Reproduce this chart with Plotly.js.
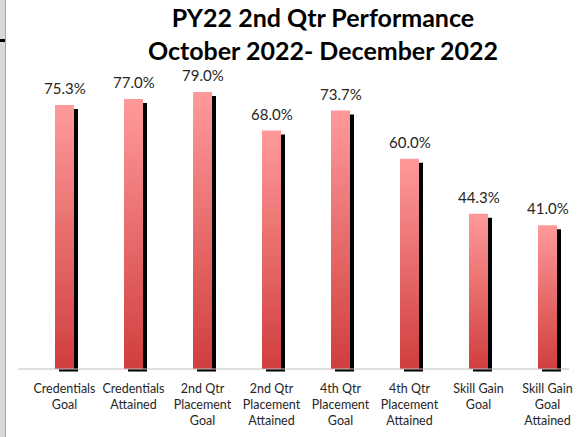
<!DOCTYPE html>
<html><head><meta charset="utf-8">
<script src="https://cdn.plot.ly/plotly-3.0.1.min.js"></script>
<style>html,body{margin:0;padding:0;background:#fff;} #chart{width:582px;height:437px;}</style>
</head><body><div id="chart"></div>
<script>
// ---- data ----
const categories = ["Credentials<br>Goal","Credentials<br>Attained","2nd Qtr<br>Placement<br>Goal","2nd Qtr<br>Placement<br>Attained","4th Qtr<br>Placement<br>Goal","4th Qtr<br>Placement<br>Attained","Skill Gain<br>Goal","Skill Gain<br>Goal<br>Attained"];
const values = [75.3, 77.0, 79.0, 68.0, 73.7, 60.0, 44.3, 41.0];
const valueLabels = values.map(v => v.toFixed(1) + '%');
const titleLines = ["PY22 2nd Qtr Performance", "October 2022- December 2022"];

// ---- geometry helpers ----
const W = 582, H = 437;
const mL = 30, mR = 0, mT = 69, mB = 65;
const plotW = W - mL - mR, plotH = H - mT - mB;
const pxPerCat = plotW / categories.length;
const yMax = 85.57;
const yMin = -0.856;
const pxPerUnit = plotH / (yMax - yMin);
const idx = categories.map((c, i) => i);
const barW = 19 / pxPerCat;
const shX = 4 / pxPerCat;
const shTop = 4 / pxPerUnit, shBot = 2.5 / pxPerUnit;

const shadow = {
  type: 'bar', x: idx, y: values.map(v => v - shTop + shBot), base: values.map(() => -shBot),
  width: barW, offset: -barW / 2 + shX, marker: {color: '#000000', line: {width: 0}},
  hoverinfo: 'skip', showlegend: false
};
const bars = {
  type: 'bar', x: idx, y: values, width: barW, offset: -barW / 2,
  marker: {color: '#e87070', line: {width: 0}}, hoverinfo: 'skip', showlegend: false
};

const annotations = values.map((v, i) => ({
  x: i, y: v, xref: 'x', yref: 'y', text: valueLabels[i], showarrow: false,
  yanchor: 'middle', yshift: 17, font: {family: 'Lato, sans-serif', size: 15, color: '#262626'}
}));

const layout = {
  width: W, height: H, margin: {l: mL, r: mR, t: mT, b: mB},
  paper_bgcolor: '#ffffff', plot_bgcolor: '#ffffff', barmode: 'overlay',
  title: {text: titleLines.join('<br>'), x: 323 / W, xanchor: 'center', xref: 'container',
          y: 0.938, yanchor: 'top', yref: 'container',
          font: {family: 'Lato, sans-serif', size: 25, color: '#000000', weight: 'bold'}},
  xaxis: {range: [-0.5, categories.length - 0.5], tickvals: idx, ticktext: categories,
          showgrid: false, zeroline: false, showline: false, ticks: '', ticklabelstandoff: 7,
          tickfont: {family: 'Lato, sans-serif', size: 12.5, color: '#262626'}, tickangle: 0},
  yaxis: {range: [yMin, yMax], visible: false, showgrid: false, zeroline: false},
  annotations: annotations,
  shapes: [
    {type: 'line', xref: 'paper', yref: 'y', x0: (18 - mL) / plotW, x1: (569 - mL) / plotW, y0: 0, y1: 0,
     line: {color: '#bfbfbf', width: 1}, layer: 'above'},
    {type: 'rect', xref: 'paper', yref: 'paper', x0: -mL / plotW, x1: (5 - mL) / plotW, y0: -mB / plotH, y1: 1 + mT / plotH,
     fillcolor: '#d9d9d9', line: {width: 0}},
    {type: 'line', xref: 'paper', yref: 'paper', x0: (5.5 - mL) / plotW, x1: (5.5 - mL) / plotW, y0: -mB / plotH, y1: 1 + mT / plotH,
     line: {color: '#a6a6a6', width: 1}},
    {type: 'rect', xref: 'paper', yref: 'paper', x0: -mL / plotW, x1: (5 - mL) / plotW, y0: (H - mB - 42) / plotH, y1: (H - mB - 39) / plotH,
     fillcolor: '#000000', line: {width: 0}}
  ]
};

Plotly.newPlot('chart', [shadow, bars], layout, {displayModeBar: false, staticPlot: true}).then(gd => {
  const svg = gd.querySelector('svg.main-svg');
  const defs = svg.querySelector('defs');
  const ns = 'http://www.w3.org/2000/svg';
  const g = document.createElementNS(ns, 'linearGradient');
  g.setAttribute('id', 'barGrad');
  g.setAttribute('x1', '0'); g.setAttribute('y1', '0'); g.setAttribute('x2', '0'); g.setAttribute('y2', '1');
  [['0', '#ff9a9a'], ['1', '#d03e3e']].forEach(([o, c]) => {
    const s = document.createElementNS(ns, 'stop');
    s.setAttribute('offset', o); s.setAttribute('stop-color', c); g.appendChild(s);
  });
  defs.appendChild(g);
  const traces = gd.querySelectorAll('.trace.bars');
  traces[1].querySelectorAll('path').forEach(p => { p.style.fill = 'url(#barGrad)'; });
});
</script>
</body></html>
